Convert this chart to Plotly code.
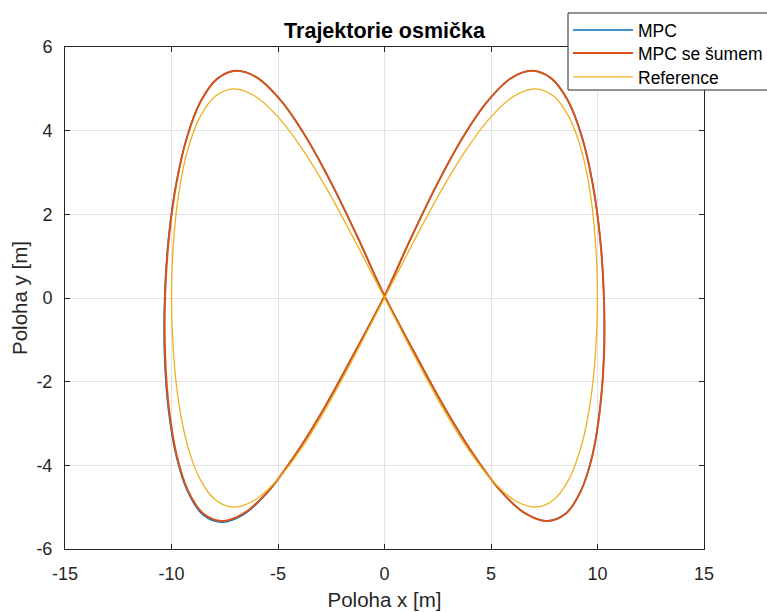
import plotly.graph_objects as go

# Reference figure-eight
ref_x = [0, 1.31, 2.59, 3.83, 5.00, 6.09, 7.07, 7.93, 8.66, 9.24, 9.66, 9.91, 10.0,
         9.91, 9.66, 9.24, 8.66, 7.93, 7.07, 6.09, 5.00, 3.83, 2.59, 1.31, 0,
         -1.31, -2.59, -3.83, -5.00, -6.09, -7.07, -7.93, -8.66, -9.24, -9.66, -9.91, -10.0,
         -9.91, -9.66, -9.24, -8.66, -7.93, -7.07, -6.09, -5.00, -3.83, -2.59, -1.31, 0]
ref_y = [0, 1.29, 2.50, 3.54, 4.33, 4.83, 5.00, 4.83, 4.33, 3.54, 2.50, 1.29, 0,
         -1.29, -2.50, -3.54, -4.33, -4.83, -5.00, -4.83, -4.33, -3.54, -2.50, -1.29, 0,
         1.29, 2.50, 3.54, 4.33, 4.83, 5.00, 4.83, 4.33, 3.54, 2.50, 1.29, 0,
         -1.29, -2.50, -3.54, -4.33, -4.83, -5.00, -4.83, -4.33, -3.54, -2.50, -1.29, 0]

# MPC trajectory
mpc_x = [0, 1.25, 2.49, 3.69, 4.85, 5.93, 6.93, 7.83, 8.62, 9.27, 9.77, 10.12, 10.30,
         10.30, 10.12, 9.76, 9.22, 8.51, 7.63, 6.61, 5.45, 4.19, 2.84, 1.44, 0,
         -1.25, -2.49, -3.69, -4.85, -5.93, -6.93, -7.83, -8.62, -9.27, -9.78, -10.14, -10.32,
         -10.33, -10.15, -9.78, -9.24, -8.53, -7.65, -6.62, -5.46, -4.20, -2.85, -1.44, 0]
mpc_y = [0.05, 1.44, 2.74, 3.85, 4.71, 5.25, 5.43, 5.25, 4.71, 3.85, 2.74, 1.44, 0.05,
         -1.34, -2.64, -3.75, -4.61, -5.15, -5.33, -5.15, -4.61, -3.75, -2.64, -1.34, 0.05,
         1.44, 2.74, 3.85, 4.71, 5.25, 5.43, 5.25, 4.71, 3.85, 2.74, 1.44, 0.05,
         -1.35, -2.65, -3.77, -4.63, -5.18, -5.36, -5.18, -4.63, -3.76, -2.65, -1.34, 0.05]

# MPC with noise
mpcn_x = [0, 1.25, 2.49, 3.69, 4.85, 5.93, 6.93, 7.83, 8.62, 9.27, 9.77, 10.12, 10.30,
          10.31, 10.12, 9.77, 9.22, 8.52, 7.63, 6.61, 5.45, 4.19, 2.84, 1.44, 0,
          -1.25, -2.49, -3.69, -4.85, -5.93, -6.93, -7.83, -8.62, -9.27, -9.77, -10.12, -10.30,
          -10.30, -10.12, -9.76, -9.22, -8.51, -7.63, -6.61, -5.45, -4.19, -2.84, -1.44, 0]
mpcn_y = [0.05, 1.44, 2.74, 3.85, 4.71, 5.25, 5.43, 5.25, 4.71, 3.85, 2.74, 1.44, 0.05,
          -1.34, -2.64, -3.75, -4.61, -5.15, -5.33, -5.15, -4.61, -3.75, -2.64, -1.34, 0.05,
          1.44, 2.74, 3.85, 4.71, 5.25, 5.43, 5.25, 4.71, 3.85, 2.74, 1.44, 0.05,
          -1.34, -2.64, -3.75, -4.61, -5.15, -5.33, -5.15, -4.61, -3.75, -2.64, -1.34, 0.05]

x_ticks = [-15, -10, -5, 0, 5, 10, 15]
y_ticks = [-6, -4, -2, 0, 2, 4, 6]

FONT = "Liberation Sans, Arial, sans-serif"
AX = "#262626"

fig = go.Figure()
fig.add_trace(go.Scatter(x=mpc_x, y=mpc_y, mode="lines", name="MPC", legend="legend",
                         line=dict(color="#0072BD", width=1.5, shape="spline", smoothing=1.0)))
fig.add_trace(go.Scatter(x=mpcn_x, y=mpcn_y, mode="lines", name="MPC se šumem", legend="legend2",
                         line=dict(color="#D95319", width=2.0, shape="spline", smoothing=1.0)))
fig.add_trace(go.Scatter(x=ref_x, y=ref_y, mode="lines", name="Reference", legend="legend3",
                         line=dict(color="#EDB120", width=1.3, shape="spline", smoothing=1.0)))

axis_common = dict(
    showgrid=True, gridcolor="#e3e3e3", gridwidth=1,
    zeroline=False, showline=True, linecolor=AX, linewidth=1, mirror="ticks",
    ticks="inside", ticklen=5, tickcolor=AX, tickwidth=1,
    tickfont=dict(family=FONT, size=18, color=AX),
)

# plot area in pixels: x 65..704, y 47..549
def px_x(p):
    return (p - 65) / (704 - 65)

def px_y(p):
    return (549 - p) / (549 - 47)

def leg(top):
    return dict(x=px_x(568), y=px_y(top), xanchor="left", yanchor="top",
                bgcolor="rgba(0,0,0,0)", borderwidth=0,
                font=dict(family=FONT, size=17.5, color="black"),
                itemwidth=60, tracegroupgap=0)

fig.update_layout(
    width=767, height=612,
    margin=dict(l=65, r=63, t=47, b=63, autoexpand=False),
    paper_bgcolor="white", plot_bgcolor="white",
    title=dict(text="<b>Trajektorie osmička</b>", x=384.5 / 767, xanchor="center",
               y=1 - 30.5 / 612, yanchor="middle",
               font=dict(family=FONT, size=21.5, color="black")),
    xaxis=dict(range=[-15, 15], tickvals=x_ticks, ticktext=[str(v) for v in x_ticks],
               title=dict(text="Poloha x [m]", font=dict(family=FONT, size=20.5, color=AX), standoff=10),
               ticklabelstandoff=8, **axis_common),
    yaxis=dict(range=[-6, 6], tickvals=y_ticks, ticktext=[str(v) for v in y_ticks],
               title=dict(text="Poloha y [m]", font=dict(family=FONT, size=20.5, color=AX), standoff=3),
               ticklabelstandoff=8, **axis_common),
    legend=leg(12),
    legend2=leg(35),
    legend3=leg(59),
    shapes=[dict(type="rect", xref="paper", yref="paper",
                 x0=px_x(568), x1=px_x(775), y0=px_y(90), y1=px_y(13),
                 fillcolor="white", line=dict(color=AX, width=1), layer="above")],
    showlegend=True,
)

fig.write_html("out.html")
